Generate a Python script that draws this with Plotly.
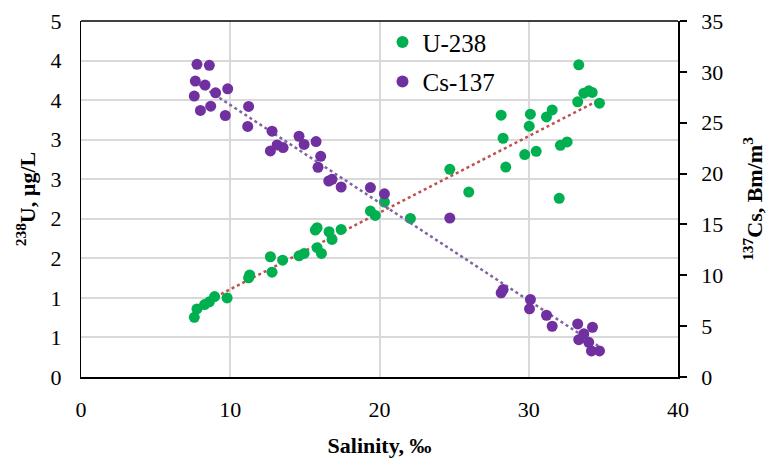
import numpy as np
import plotly.graph_objects as go

# U-238 (left axis, µg/L) vs salinity
u_salinity = [7.59, 7.77, 8.28, 8.60, 8.95, 9.79, 11.23, 11.30, 12.69, 12.80, 13.51, 14.61, 14.95,
              15.82, 15.70, 16.62, 16.82, 17.43, 15.82, 16.11, 19.39, 19.72, 20.33, 22.07, 24.71,
              25.98, 28.15, 28.28, 28.46, 29.73, 30.11, 30.03, 30.50, 31.19, 31.57, 32.04, 32.12,
              32.57, 33.28, 33.35, 33.69, 34.02, 34.25, 34.74]
u_values = [0.755, 0.861, 0.916, 0.950, 1.017, 1.000, 1.254, 1.29, 1.52, 1.325, 1.477, 1.532, 1.562,
            1.887, 1.857, 1.836, 1.739, 1.866, 1.634, 1.562, 2.097, 2.043, 2.211, 2.005, 2.625,
            2.338, 3.309, 3.018, 2.654, 2.812, 3.322, 3.17, 2.853, 3.288, 3.376, 2.258, 2.929,
            2.971, 3.478, 3.946, 3.588, 3.617, 3.597, 3.461]

# Cs-137 (right axis) vs salinity
cs_salinity = [7.77, 8.60, 7.66, 8.31, 7.59, 9.02, 9.83, 8.00, 8.69, 9.67, 11.23, 11.17, 12.80,
               12.69, 13.14, 13.54, 14.61, 14.95, 15.75, 16.06, 15.88, 16.60, 16.82, 17.43, 19.39,
               20.33, 24.71, 28.15, 28.28, 30.11, 30.05, 31.19, 31.57, 33.28, 34.27, 33.69, 33.35,
               34.02, 34.20, 34.74]
cs_values = [30.74, 30.64, 29.09, 28.70, 27.62, 27.94, 28.33, 26.21, 26.63, 25.71, 26.60, 24.63, 24.17,
             22.23, 22.82, 22.56, 23.67, 22.86, 23.15, 21.70, 20.62, 19.27, 19.44, 18.68, 18.62,
             18.01, 15.63, 8.28, 8.60, 7.62, 6.70, 6.07, 4.99, 5.22, 4.89, 4.24, 3.67,
             3.41, 2.56, 2.56]

left_tickvals = [0, 0.5, 1, 1.5, 2, 2.5, 3, 3.5, 4, 4.5]
left_ticktext = ["0", "1", "1", "2", "2", "3", "3", "4", "4", "5"]
right_tickvals = [0, 5, 10, 15, 20, 25, 30, 35]
x_tickvals = [0, 10, 20, 30, 40]

FONT = "Liberation Serif"
GREEN = "#00B050"
PURPLE = "#7030A0"

def trend(xs, ys):
    xs = np.asarray(xs, float)
    ys = np.asarray(ys, float)
    k, b = np.polyfit(xs, ys, 1)
    xx = np.array([xs.min(), xs.max()])
    return xx, k * xx + b

fig = go.Figure()

ux, uy = trend(u_salinity, u_values)
cx, cy = trend(cs_salinity, cs_values)

fig.add_trace(go.Scatter(x=ux, y=uy, mode="lines", showlegend=False, hoverinfo="skip",
                         line=dict(color="#C0504D", width=2.5, dash="dot")))
fig.add_trace(go.Scatter(x=cx, y=cy, mode="lines", showlegend=False, hoverinfo="skip", yaxis="y2",
                         line=dict(color="#8064A2", width=2.5, dash="dot")))

fig.add_trace(go.Scatter(x=u_salinity, y=u_values, mode="markers", name="U-238",
                         legendgroup="u",
                         marker=dict(color=GREEN, size=11)))
fig.add_trace(go.Scatter(x=cs_salinity, y=cs_values, mode="markers", name="Cs-137", yaxis="y2",
                         legendgroup="cs",
                         marker=dict(color=PURPLE, size=11)))

tick_font = dict(family=FONT, size=22, color="black")

fig.update_layout(
    width=767, height=462,
    margin=dict(l=81, r=89, t=21, b=85),
    paper_bgcolor="white", plot_bgcolor="white",
    font=dict(family=FONT, size=22, color="black"),
    xaxis=dict(range=[0, 40], tickvals=x_tickvals, showgrid=True, gridcolor="#D9D9D9", gridwidth=1.5,
               zeroline=False, showline=True, linecolor="black", linewidth=2, mirror=False,
               ticks="", ticklabelstandoff=12, tickfont=tick_font, automargin=False,
               title=dict(text="<b>Salinity, ‰</b>", font=dict(family=FONT, size=22), standoff=16)),
    yaxis=dict(range=[0, 4.5], tickvals=left_tickvals, ticktext=left_ticktext,
               showgrid=True, gridcolor="#D9D9D9", gridwidth=1.5, zeroline=False,
               showline=True, linecolor="black", linewidth=1, ticks="", ticklabelstandoff=14,
               tickfont=tick_font, automargin=False,
               title=dict(text="<b><sup>238</sup>U, µg/L</b>", font=dict(family=FONT, size=22), standoff=8)),
    yaxis2=dict(range=[0, 35], tickvals=right_tickvals, overlaying="y", side="right",
                showgrid=False, zeroline=False, showline=True, linecolor="black", linewidth=1.5,
                ticks="outside", ticklen=7, tickcolor="black", tickwidth=1.5, ticklabelstandoff=10,
                tickfont=tick_font, automargin=False,
                title=dict(text="<b><sup>137</sup>Cs, Bm/m<sup>3</sup></b>", font=dict(family=FONT, size=22), standoff=27)),
    legend=dict(x=0.505, y=1.005, xanchor="left", yanchor="top", bgcolor="rgba(0,0,0,0)",
                font=dict(family=FONT, size=25), tracegroupgap=4, itemsizing="constant"),
    showlegend=True,
)

# top border of plot area
fig.add_shape(type="line", xref="paper", yref="paper", x0=0, x1=1, y0=1, y1=1,
              line=dict(color="black", width=1.5))

fig.write_html("out.html")
